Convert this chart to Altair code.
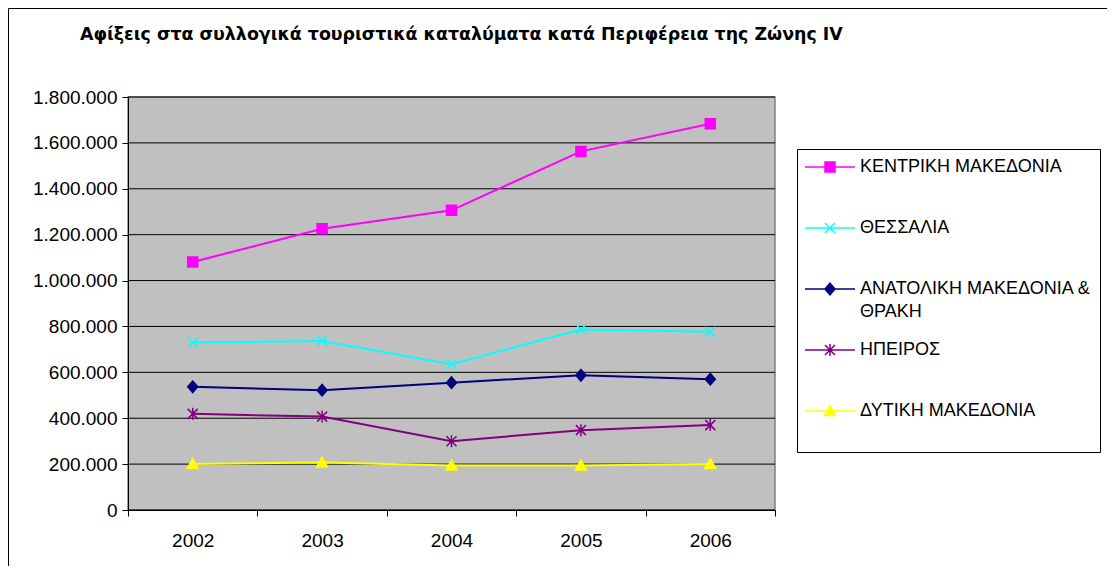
import altair as alt
import pandas as pd

title_text = "Αφίξεις στα συλλογικά τουριστικά καταλύματα κατά Περιφέρεια της Ζώνης IV"
years = ["2002", "2003", "2004", "2005", "2006"]
series_names = [
    "ΚΕΝΤΡΙΚΗ ΜΑΚΕΔΟΝΙΑ",
    "ΘΕΣΣΑΛΙΑ",
    "ΑΝΑΤΟΛΙΚΗ ΜΑΚΕΔΟΝΙΑ & ΘΡΑΚΗ",
    "ΗΠΕΙΡΟΣ",
    "ΔΥΤΙΚΗ ΜΑΚΕΔΟΝΙΑ",
]
kentriki = [1081000, 1226000, 1306000, 1563000, 1683000]
thessalia = [730000, 737000, 635000, 787000, 777000]
anatoliki = [537000, 522000, 555000, 587000, 570000]
ipeiros = [419000, 407000, 300000, 348000, 370000]
dytiki = [200000, 207000, 194000, 194000, 200000]
y_ticks = [0, 200000, 400000, 600000, 800000, 1000000, 1200000, 1400000, 1600000, 1800000]

colors = ["#FF00FF", "#00FFFF", "#000080", "#800080", "#FFFF00"]
# marker shapes in the plot
plot_shapes = [
    "M-1,-1H1V1H-1Z",
    "M-1,-1L1,1M-1,1L1,-1",
    "M0,-1.15L1,0L0,1.15L-1,0Z",
    "M-1,-1L1,1M-1,1L1,-1M0,-1.2L0,1.2",
    "M0,-1.1L1.1,0.9L-1.1,0.9Z",
]
# legend symbols: line segment + marker
legend_shapes = [
    "M-5,0H5M-1,-1H1V1H-1Z",
    "M-5,0H5M-1,-1L1,1M-1,1L1,-1",
    "M-5,0H5M0,-1.15L1,0L0,1.15L-1,0Z",
    "M-5,0H5M-1,-1L1,1M-1,1L1,-1M0,-1.2L0,1.2",
    "M-5,0H5M0,-1.1L1.1,0.9L-1.1,0.9Z",
]

values = [kentriki, thessalia, anatoliki, ipeiros, dytiki]
rows = []
for name, vals in zip(series_names, values):
    for yr, v in zip(years, vals):
        rows.append({"year": yr, "series": name, "value": v})
df = pd.DataFrame(rows)

FONT = "Liberation Sans"

x_enc = alt.X(
    "year:O",
    sort=years,
    scale=alt.Scale(type="band", paddingInner=0, paddingOuter=0),
    axis=alt.Axis(
        title=None, labelAngle=0, tickBand="extent", tickSize=6, tickColor="black",
        domainColor="black", labelFont=FONT, labelFontSize=19, labelColor="black",
        labelPadding=15, grid=False, zindex=1,
    ),
)
y_scale = alt.Scale(domain=[0, 1800000], nice=False)
y_axis = alt.Axis(
    title=None, values=y_ticks,
    labelExpr="replace(format(datum.value, ','), regexp(',', 'g'), '.')",
    grid=False, tickSize=6, tickColor="black",
    domainColor="black", labelFont=FONT, labelFontSize=19, labelColor="black",
    labelPadding=5, zindex=1,
)
y_enc = alt.Y("value:Q", scale=y_scale, axis=y_axis)

color_scale = alt.Scale(domain=series_names, range=colors)

base = alt.Chart(df)

# plot-area background (grey fill, grey border)
background = alt.Chart(pd.DataFrame({"b": [0]})).mark_rect(
    fill="#C0C0C0", stroke="#808080", strokeWidth=1.5
).encode(
    x=alt.value(0), x2=alt.value("width"), y=alt.value(0), y2=alt.value("height")
)

# horizontal gridlines at the tick values
grid = alt.Chart(pd.DataFrame({"tick": y_ticks})).mark_rule(
    color="black", strokeWidth=1
).encode(y=alt.Y("tick:Q", scale=y_scale, axis=y_axis))

lines = base.mark_line(strokeWidth=2).encode(
    x=x_enc, y=y_enc,
    stroke=alt.Stroke("series:N", scale=color_scale, legend=None),
)

points = base.mark_point(filled=False, size=100, strokeWidth=1.5, opacity=1).encode(
    x=x_enc, y=y_enc,
    stroke=alt.Stroke("series:N", scale=color_scale, legend=None),
    fill=alt.Fill("series:N", scale=color_scale, legend=None),
    shape=alt.Shape("series:N", scale=alt.Scale(domain=series_names, range=plot_shapes), legend=None),
)

leg = alt.Legend(
    orient="none", legendX=669, legendY=52, title=None, direction="vertical",
    strokeColor="black", fillColor="white", padding=9,
    symbolSize=100, symbolStrokeWidth=1.5, symbolOffset=15, labelOffset=21,
    labelFont=FONT, labelFontSize=18, labelColor="black", labelLimit=500,
    labelBaseline="middle", rowPadding=20,
    labelExpr="datum.label == 'ΑΝΑΤΟΛΙΚΗ ΜΑΚΕΔΟΝΙΑ & ΘΡΑΚΗ' ? ['ΑΝΑΤΟΛΙΚΗ ΜΑΚΕΔΟΝΙΑ &', 'ΘΡΑΚΗ'] : [datum.label, '']",
)

legend_layer = base.transform_filter("false").mark_point(
    filled=False, size=100, strokeWidth=1.5, opacity=1
).encode(
    stroke=alt.Stroke("series:N", scale=color_scale, legend=leg),
    fill=alt.Fill("series:N", scale=color_scale, legend=leg),
    shape=alt.Shape("series:N", scale=alt.Scale(domain=series_names, range=legend_shapes), legend=leg),
)

frame = alt.Chart(pd.DataFrame({"f": [0]})).mark_rect(
    fillOpacity=0, stroke="black", strokeWidth=1
).encode(
    x=alt.value(-119.5), x2=alt.value(1500), y=alt.value(-88.5), y2=alt.value(1000)
)

chart = alt.layer(frame, background, grid, lines, points, legend_layer).resolve_scale(
    stroke="independent", fill="independent", shape="independent"
).properties(
    width=647, height=413,
    autosize=alt.AutoSizeParams(type="none"),
    padding={"left": 120, "top": 89, "right": 332, "bottom": 56},
    title=alt.TitleParams(
        title_text, anchor="start", frame="group", dx=-48, offset=0, dy=49,
        baseline="alphabetic", font="DejaVu Sans", fontSize=17.4, fontWeight="bold", color="black",
    ),
).configure(
    background="white",
    view=alt.ViewConfig(stroke="transparent"),
    style={"guide-label": {"lineHeight": 23}},
)

chart.save("out.html", embed_options={"renderer": "svg", "actions": False})
